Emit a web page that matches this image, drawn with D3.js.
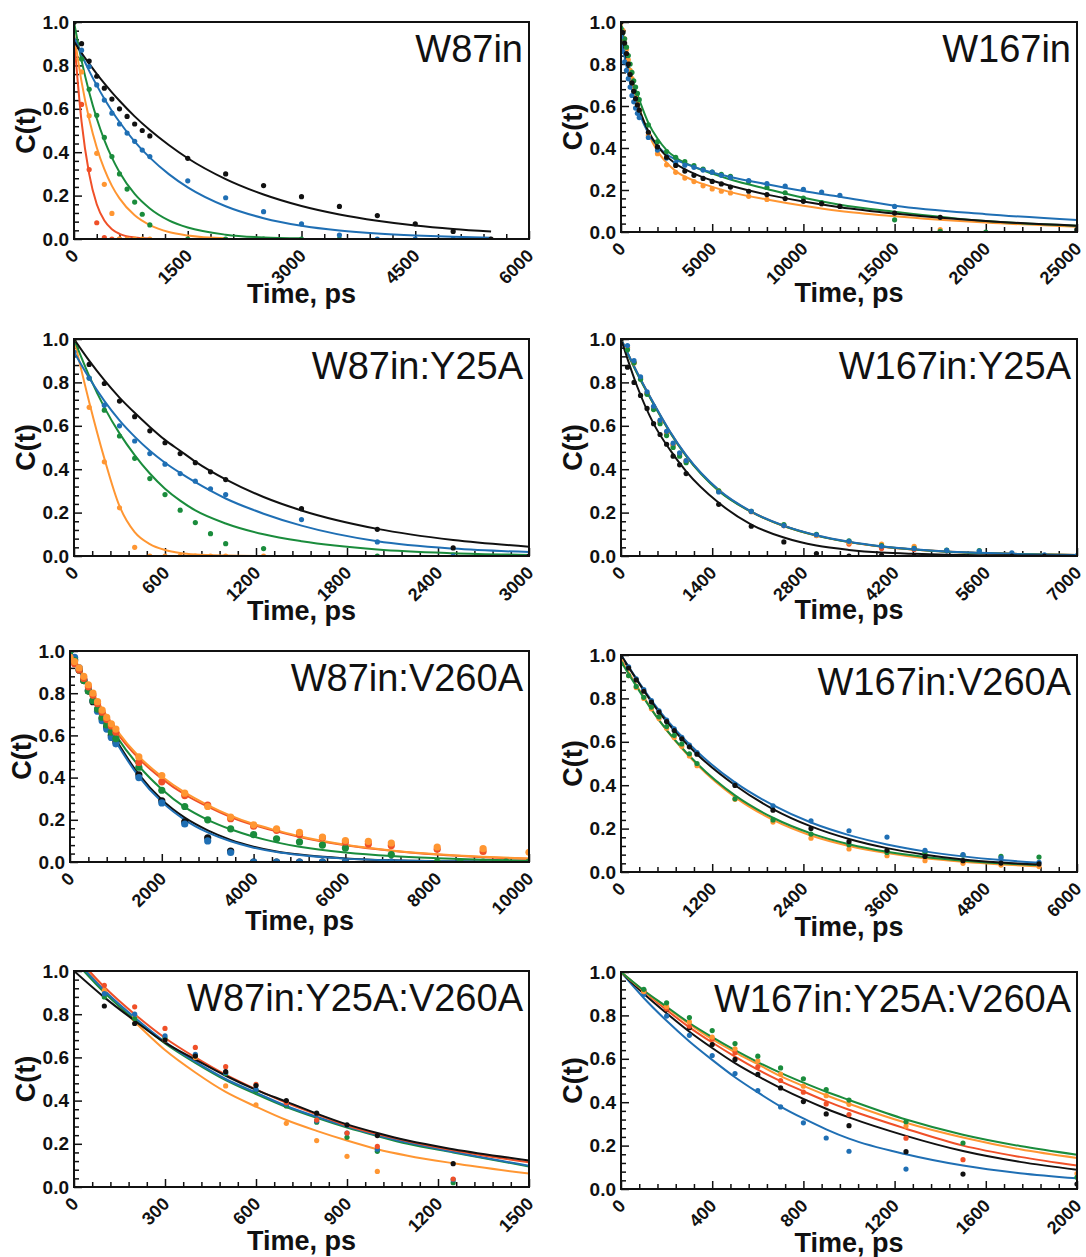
<!DOCTYPE html>
<html>
<head>
<meta charset="utf-8">
<script src="https://cdn.jsdelivr.net/npm/d3@7"></script>
<style>
  html, body { margin: 0; padding: 0; background: #ffffff; }
  svg { display: block; }
</style>
</head>
<body>
<svg id="fig" width="1086" height="1257"></svg>
<script>
// ---------- W87in ----------
const w87inPtT      = [0,100,200,300,400,500,600,700,800,900,1000,1500,2000,2500,3000,3500,4000,4500,5000,5500];
const w87inPtBlack  = [1.0,0.90,0.82,0.75,0.695,0.645,0.60,0.565,0.53,0.50,0.475,0.372,0.30,0.246,0.195,0.15,0.108,0.07,0.035,0.0];
const w87inPtBlue   = [1.0,0.87,0.795,0.71,0.64,0.58,0.53,0.488,0.45,0.41,0.38,0.268,0.19,0.126,0.07,0.018,0.0,0.0,0.0,null];
const w87inPtGreen  = [1.0,0.83,0.69,0.57,0.468,0.38,0.30,0.23,0.17,0.114,0.065,0.0,0.0,0.0,0.0,0.0,null,null,null,null];
const w87inPtOrange = [1.0,0.77,0.568,0.395,0.252,0.118,0.0,0.0,0.0,0.0,0.0,null,null,null,null,null,null,null,null,null];
const w87inPtRed    = [1.0,0.62,0.32,0.075,0.006,0.0,0.0,null,null,null,null,null,null,null,null,null,null,null,null,null];
const w87inFitT      = [0,100,200,300,400,500,600,800,1000,1250,1500,2000,2500,3000,3500,4000,4500,5000,5500];
const w87inFitBlack  = [0.91,0.857,0.808,0.761,0.717,0.676,0.637,0.565,0.502,0.433,0.372,0.276,0.205,0.152,0.113,0.084,0.062,0.046,0.034];
const w87inFitBlue   = [0.93,0.849,0.775,0.708,0.646,0.59,0.539,0.449,0.375,0.299,0.238,0.151,0.096,0.061,0.039,0.025,0.016,0.01,0.006];
const w87inFitGreen  = [1.0,0.822,0.676,0.555,0.456,0.375,0.308,0.208,0.141,0.086,0.053,0.02,0.007,0.003,null,null,null,null,null];
const w87inFitOrange = [0.95,0.724,0.553,0.422,0.322,0.245,0.187,0.109,0.064,0.032,0.016,0.003,null,null,null,null,null,null,null];
const w87inFitRed    = [0.93,0.54,0.30,0.16,0.085,0.045,0.024,0.007,0.002,null,null,null,null,null,null,null,null,null,null];

// ---------- W167in ----------
const w167inPtT      = [0,100,200,300,400,500,600,700,800,900,1000,1500,2000,2500,3000,3500,4000,4500,5000,5500,6000,7000,8000,9000,10000,11000,12000,15000,17500,20000,25000];
const w167inPtBlack  = [1.0,0.95,0.90,0.85,0.80,0.75,0.71,0.67,0.635,0.605,0.58,0.475,0.405,0.356,0.317,0.29,0.27,0.255,0.241,0.229,0.214,0.194,0.178,0.159,0.146,0.135,0.122,0.09,0.07,null,0.011];
const w167inPtBlue   = [0.93,0.86,0.81,0.77,0.73,0.69,0.65,0.62,0.59,0.565,0.545,0.45,0.39,0.352,0.33,0.318,0.308,0.295,0.285,0.27,0.26,0.245,0.23,0.218,0.203,0.19,0.175,0.122,null,null,null];
const w167inPtGreen  = [0.97,0.95,0.92,0.88,0.84,0.80,0.76,0.72,0.69,0.66,0.63,0.51,0.43,0.383,0.356,0.335,0.316,0.30,0.285,0.275,0.265,0.24,0.212,0.187,0.162,0.14,null,0.058,0.003,0.0,0.01];
const w167inPtOrange = [1.0,0.96,0.92,0.87,0.82,0.77,0.73,0.69,0.65,0.61,0.58,0.46,0.373,0.32,0.284,0.257,0.24,0.22,0.205,0.194,0.186,0.17,0.155,null,null,0.135,null,null,0.011,null,null];
const w167inFitT      = [0,250,500,750,1000,1500,2000,2500,3000,4000,5000,6000,8000,10000,12000,15000,20000,25000];
const w167inFitBlack  = [0.97,0.85,0.735,0.65,0.585,0.48,0.41,0.36,0.325,0.278,0.245,0.22,0.178,0.145,0.118,0.088,0.052,0.03];
const w167inFitBlue   = [0.92,0.81,0.71,0.63,0.567,0.47,0.41,0.37,0.345,0.31,0.283,0.262,0.227,0.195,0.168,0.125,0.085,0.057];
const w167inFitGreen  = [0.99,0.88,0.77,0.69,0.63,0.52,0.445,0.39,0.355,0.31,0.278,0.25,0.205,0.163,0.13,0.097,0.052,0.03];
const w167inFitOrange = [1.0,0.87,0.75,0.66,0.59,0.47,0.385,0.33,0.29,0.245,0.215,0.19,0.155,0.125,0.10,0.075,0.045,0.025];

// ---------- W87in:Y25A ----------
const w87yPtT      = [0,100,200,300,400,500,600,700,800,900,1000,1250,1500,2000,2500,3000];
const w87yPtBlack  = [1.0,0.883,0.795,0.714,0.642,0.577,0.522,0.472,0.43,0.388,0.352,null,0.218,0.123,0.037,0.0];
const w87yPtBlue   = [0.94,0.82,0.695,0.60,0.53,0.472,0.423,0.38,0.345,0.31,0.283,null,0.168,0.065,0.0,null];
const w87yPtGreen  = [1.0,0.82,0.672,0.553,0.45,0.357,0.283,0.211,0.154,0.103,0.057,0.034,null,0.0,null,null];
const w87yPtOrange = [1.0,0.685,0.434,0.222,0.04,0.0,0.0,0.0,0.0,0.0,0.0,0.0,null,null,null,null];
const w87yFitT      = [0,100,200,300,400,500,600,700,800,1000,1250,1500,2000,2500,3000];
const w87yFitBlack  = [1.0,0.90,0.81,0.73,0.66,0.595,0.535,0.485,0.435,0.353,0.272,0.21,0.125,0.074,0.043];
const w87yFitBlue   = [0.94,0.82,0.715,0.625,0.55,0.485,0.43,0.383,0.34,0.265,0.195,0.14,0.068,0.034,0.018];
const w87yFitGreen  = [1.0,0.83,0.685,0.565,0.465,0.38,0.31,0.255,0.21,0.15,0.10,0.068,0.03,0.013,0.005];
const w87yFitOrange = [1.0,0.71,0.45,0.23,0.11,0.055,0.028,0.014,0.007,0.002,0.0,null,null,null,null];

// ---------- W167in:Y25A ----------
const w167yPtT      = [0,100,200,300,400,500,600,700,800,900,1000,1500,2000,2500,3000,3500,4000,4500,5000,5500,6000,6500,7000];
const w167yPtBlack  = [1.0,0.87,0.80,0.74,0.68,0.61,0.56,0.515,0.46,0.42,0.38,0.238,0.137,0.065,0.011,0.0,0.003,0.0,0.0,null,0.0,0.0,null];
const w167yPtBlue   = [1.0,0.97,0.90,0.826,0.757,0.69,0.626,0.575,0.52,0.475,0.44,0.295,0.206,0.14,0.098,0.068,0.045,0.034,0.026,0.023,0.015,0.005,0.002];
const w167yPtGreen  = [1.0,0.95,0.89,0.815,0.745,0.675,0.61,0.555,0.50,0.46,0.43,0.30,0.206,0.145,0.10,0.07,0.048,0.035,0.027,0.025,null,null,null];
const w167yPtOrange = [1.0,0.96,0.89,0.82,0.75,0.685,0.62,0.57,0.515,0.47,0.44,0.30,0.205,0.14,0.095,0.06,0.055,0.045,null,null,null,null,null];
const w167yPtRed    = [1.0,0.96,0.89,0.82,0.75,0.68,0.62,0.565,0.51,0.47,0.435,0.298,0.204,0.14,0.094,0.055,0.034,0.03,null,null,null,null,null];
const w167yFitT      = [0,250,500,750,1000,1500,2000,2500,3000,3500,4000,4500,5000,5500,6000,7000];
const w167yFitBlack  = [1.0,0.78,0.61,0.49,0.39,0.245,0.145,0.085,0.048,0.028,0.016,0.01,0.006,0.004,0.003,0.001];
const w167yFitBlue   = [1.0,0.845,0.705,0.575,0.465,0.305,0.205,0.14,0.096,0.066,0.045,0.031,0.021,0.015,0.01,0.005];
const w167yFitGreen  = [1.0,0.84,0.70,0.57,0.46,0.30,0.203,0.138,0.094,0.064,0.044,0.03,0.02,0.014,0.01,0.005];
const w167yFitOrange = [1.0,0.843,0.703,0.573,0.463,0.303,0.204,0.139,0.095,0.065,0.044,0.03,0.021,0.014,0.01,0.005];
const w167yFitRed    = [1.0,0.842,0.702,0.572,0.462,0.302,0.203,0.138,0.094,0.064,0.043,0.03,0.02,0.014,0.01,0.005];

// ---------- W87in:V260A ----------
const w87vPtT      = [0,100,200,300,400,500,600,700,800,900,1000,1500,2000,2500,3000,3500,4000,4500,5000,5500,6000,6500,7000,7500,8000,8500,9000,9500,10000];
const w87vPtBlack  = [1.0,0.96,0.91,0.86,0.81,0.76,0.72,0.68,0.64,0.60,0.57,0.413,0.29,0.19,0.115,0.052,0.0,0.0,0.0,0.0,0.0,null,0.0,null,null,null,null,null,null];
const w87vPtBlue   = [1.0,0.97,0.92,0.865,0.815,0.765,0.715,0.67,0.63,0.59,0.56,0.40,0.28,0.18,0.10,0.045,0.0,0.0,0.0,0.0,0.0,null,0.0,null,null,null,null,null,null];
const w87vPtGreen  = [1.0,0.955,0.91,0.86,0.81,0.765,0.725,0.685,0.65,0.615,0.585,0.449,0.34,0.263,0.20,0.157,0.13,0.11,0.095,0.08,0.066,null,0.035,null,0.0,0.0,0.0,0.0,0.0];
const w87vPtOrange = [0.97,0.95,0.92,0.88,0.84,0.80,0.76,0.72,0.685,0.655,0.63,0.498,0.41,0.326,0.263,0.213,0.176,0.157,0.14,0.118,0.102,0.098,0.09,null,0.071,null,0.063,null,0.046];
const w87vPtRed    = [0.96,0.94,0.91,0.87,0.83,0.79,0.75,0.71,0.675,0.645,0.615,0.472,0.38,0.315,0.27,0.205,0.17,0.15,0.13,0.115,0.095,0.085,0.078,null,0.06,null,0.05,null,null];
const w87vFitT      = [0,250,500,750,1000,1500,2000,2500,3000,3500,4000,4500,5000,6000,7000,8000,9000,10000];
const w87vFitBlack  = [1.0,0.89,0.78,0.675,0.58,0.415,0.295,0.21,0.15,0.105,0.073,0.05,0.035,0.017,0.008,0.004,0.002,0.001];
const w87vFitBlue   = [1.0,0.885,0.77,0.665,0.57,0.405,0.285,0.2,0.14,0.098,0.068,0.047,0.033,0.016,0.008,0.004,0.002,0.001];
const w87vFitGreen  = [1.0,0.895,0.785,0.69,0.60,0.455,0.345,0.26,0.20,0.155,0.12,0.093,0.072,0.045,0.028,0.018,0.011,0.007];
const w87vFitOrange = [1.0,0.90,0.80,0.71,0.63,0.50,0.405,0.33,0.27,0.22,0.18,0.15,0.122,0.082,0.055,0.037,0.025,0.016];
const w87vFitRed    = [1.0,0.898,0.795,0.705,0.62,0.49,0.395,0.32,0.262,0.213,0.175,0.145,0.118,0.079,0.053,0.035,0.023,0.015];

// ---------- W167in:V260A ----------
const w167vPtT      = [0,100,200,300,400,500,600,700,800,900,1000,1500,2000,2500,3000,3500,4000,4500,5000,5500];
const w167vPtBlack  = [1.0,0.94,0.885,0.833,0.783,0.737,0.693,0.652,0.614,0.577,0.543,0.399,0.285,0.2,0.14,0.1,0.072,0.052,0.041,0.037];
const w167vPtBlue   = [1.0,0.945,0.89,0.84,0.79,0.743,0.70,0.66,0.62,0.585,0.55,0.405,0.305,0.236,0.19,0.161,0.10,0.08,0.065,0.045];
const w167vPtGreen  = [0.96,0.905,0.855,0.805,0.76,0.715,0.67,0.63,0.59,0.545,0.50,0.337,0.24,0.175,0.126,0.09,0.09,0.078,0.072,0.069];
const w167vPtOrange = [0.97,0.905,0.85,0.80,0.752,0.707,0.663,0.62,0.58,0.535,0.49,0.335,0.23,0.156,0.106,0.075,0.052,0.04,0.032,0.025];
const w167vFitT      = [0,500,1000,1500,2000,2500,3000,3500,4000,4500,5000,5500];
const w167vFitBlack  = [1.0,0.737,0.543,0.40,0.29,0.21,0.152,0.11,0.08,0.058,0.044,0.034];
const w167vFitBlue   = [1.0,0.745,0.555,0.413,0.308,0.228,0.17,0.127,0.095,0.072,0.055,0.043];
const w167vFitGreen  = [0.97,0.70,0.50,0.353,0.25,0.178,0.128,0.093,0.069,0.052,0.04,0.031];
const w167vFitOrange = [0.98,0.70,0.495,0.345,0.24,0.168,0.12,0.087,0.063,0.047,0.035,0.026];

// ---------- W87in:Y25A:V260A ----------
const w87yvPtT      = [100,200,300,400,500,600,700,800,900,1000,1250];
const w87yvPtBlack  = [0.838,0.757,0.68,0.606,0.534,0.47,0.40,0.342,0.288,0.238,0.108];
const w87yvPtRed    = [0.934,0.834,0.734,0.646,0.557,0.475,0.39,0.31,0.25,0.188,0.037];
const w87yvPtBlue   = [0.895,0.80,0.70,0.614,0.53,0.452,0.383,0.306,0.25,0.175,0.034];
const w87yvPtGreen  = [0.88,0.78,0.69,0.61,0.525,0.445,0.375,0.30,0.23,0.165,0.02];
const w87yvPtOrange = [0.91,0.79,0.68,0.60,0.468,0.38,0.295,0.215,0.142,0.072,null];
const w87yvFitT      = [0,100,200,300,400,500,600,700,800,900,1000,1100,1250,1500];
const w87yvFitBlack  = [1.0,0.878,0.77,0.668,0.59,0.515,0.45,0.395,0.34,0.29,0.25,0.215,0.175,0.123];
const w87yvFitRed    = [1.08,0.926,0.80,0.69,0.60,0.52,0.452,0.39,0.337,0.285,0.245,0.212,0.17,0.114];
const w87yvFitBlue   = [1.06,0.91,0.785,0.672,0.58,0.50,0.437,0.375,0.325,0.28,0.24,0.206,0.163,0.098];
const w87yvFitGreen  = [1.05,0.90,0.775,0.665,0.575,0.495,0.43,0.37,0.32,0.275,0.236,0.20,0.16,0.095];
const w87yvFitOrange = [1.07,0.91,0.765,0.634,0.53,0.44,0.372,0.31,0.26,0.215,0.175,0.145,0.11,0.062];

// ---------- W167in:Y25A:V260A ----------
const w167yvPtT      = [100,200,300,400,500,600,700,800,900,1000,1250,1500,2000];
const w167yvPtGreen  = [0.92,0.858,0.79,0.73,0.67,0.612,0.558,0.508,0.458,0.41,0.31,0.212,0.054];
const w167yvPtOrange = [0.91,0.84,0.77,0.70,0.646,0.59,0.53,0.474,0.43,0.39,0.29,null,0.071];
const w167yvPtRed    = [0.91,0.83,0.75,0.69,0.628,0.563,0.50,0.446,0.392,0.343,0.234,0.135,null];
const w167yvPtBlack  = [0.915,0.828,0.743,0.666,0.597,0.528,0.466,0.403,0.346,0.292,0.172,0.069,0.023];
const w167yvPtBlue   = [0.897,0.797,0.708,0.615,0.532,0.454,0.378,0.305,0.235,0.174,0.092,null,null];
const w167yvFitT      = [0,100,200,300,400,500,600,700,800,900,1000,1250,1500,1750,2000];
const w167yvFitGreen  = [1.0,0.915,0.84,0.765,0.70,0.64,0.585,0.535,0.49,0.448,0.41,0.32,0.25,0.198,0.158];
const w167yvFitOrange = [1.0,0.913,0.835,0.76,0.69,0.63,0.575,0.52,0.475,0.432,0.393,0.305,0.237,0.183,0.143];
const w167yvFitRed    = [1.0,0.91,0.825,0.745,0.675,0.61,0.55,0.497,0.45,0.405,0.365,0.278,0.20,0.148,0.108];
const w167yvFitBlack  = [1.0,0.90,0.81,0.725,0.65,0.58,0.52,0.465,0.415,0.37,0.33,0.245,0.175,0.125,0.089];
const w167yvFitBlue   = [1.0,0.88,0.775,0.68,0.595,0.515,0.445,0.38,0.325,0.275,0.232,0.16,0.108,0.073,0.049];

// Series colours and shared y ticks
const seriesColor = { black: "#111111", blue: "#1f6fb4", green: "#1a8c3c", orange: "#ff9632", red: "#f05028" };
const yMajorTicks = [0, 0.2, 0.4, 0.6, 0.8, 1.0];

// ---------- helpers ----------
function pairs(ts, vs) {
  return ts.map((t, i) => [t, vs[i]]).filter(d => d[1] !== null && d[1] !== undefined);
}
function series(color, ptT, ptV, fitT, fitV) {
  return { color, pts: pairs(ptT, ptV), fit: pairs(fitT, fitV) };
}

// Panel definitions; box = [left, top, right, bottom] in pixels
const panels = [
  { title: "W87in", xMax: 6000, xStep: 1500, box: [74, 22, 529, 239], r: 2.6, titleGap: 64,
    series: [
      series("red", w87inPtT, w87inPtRed, w87inFitT, w87inFitRed),
      series("orange", w87inPtT, w87inPtOrange, w87inFitT, w87inFitOrange),
      series("green", w87inPtT, w87inPtGreen, w87inFitT, w87inFitGreen),
      series("blue", w87inPtT, w87inPtBlue, w87inFitT, w87inFitBlue),
      series("black", w87inPtT, w87inPtBlack, w87inFitT, w87inFitBlack)
    ] },
  { title: "W167in", xMax: 25000, xStep: 5000, box: [621, 22, 1077, 232], r: 2.6, titleGap: 70,
    series: [
      series("orange", w167inPtT, w167inPtOrange, w167inFitT, w167inFitOrange),
      series("green", w167inPtT, w167inPtGreen, w167inFitT, w167inFitGreen),
      series("blue", w167inPtT, w167inPtBlue, w167inFitT, w167inFitBlue),
      series("black", w167inPtT, w167inPtBlack, w167inFitT, w167inFitBlack)
    ] },
  { title: "W87in:Y25A", xMax: 3000, xStep: 600, box: [74, 339, 529, 556], r: 2.6, titleGap: 64,
    series: [
      series("orange", w87yPtT, w87yPtOrange, w87yFitT, w87yFitOrange),
      series("green", w87yPtT, w87yPtGreen, w87yFitT, w87yFitGreen),
      series("blue", w87yPtT, w87yPtBlue, w87yFitT, w87yFitBlue),
      series("black", w87yPtT, w87yPtBlack, w87yFitT, w87yFitBlack)
    ] },
  { title: "W167in:Y25A", xMax: 7000, xStep: 1400, box: [621, 339, 1077, 556], r: 2.6, titleGap: 63,
    series: [
      series("red", w167yPtT, w167yPtRed, w167yFitT, w167yFitRed),
      series("orange", w167yPtT, w167yPtOrange, w167yFitT, w167yFitOrange),
      series("green", w167yPtT, w167yPtGreen, w167yFitT, w167yFitGreen),
      series("blue", w167yPtT, w167yPtBlue, w167yFitT, w167yFitBlue),
      series("black", w167yPtT, w167yPtBlack, w167yFitT, w167yFitBlack)
    ] },
  { title: "W87in:V260A", xMax: 10000, xStep: 2000, box: [70, 651, 529, 862], r: 3.6, titleGap: 68,
    series: [
      series("black", w87vPtT, w87vPtBlack, w87vFitT, w87vFitBlack),
      series("blue", w87vPtT, w87vPtBlue, w87vFitT, w87vFitBlue),
      series("green", w87vPtT, w87vPtGreen, w87vFitT, w87vFitGreen),
      series("red", w87vPtT, w87vPtRed, w87vFitT, w87vFitRed),
      series("orange", w87vPtT, w87vPtOrange, w87vFitT, w87vFitOrange)
    ] },
  { title: "W167in:V260A", xMax: 6000, xStep: 1200, box: [621, 655, 1077, 872], r: 2.6, titleGap: 64,
    series: [
      series("orange", w167vPtT, w167vPtOrange, w167vFitT, w167vFitOrange),
      series("green", w167vPtT, w167vPtGreen, w167vFitT, w167vFitGreen),
      series("blue", w167vPtT, w167vPtBlue, w167vFitT, w167vFitBlue),
      series("black", w167vPtT, w167vPtBlack, w167vFitT, w167vFitBlack)
    ] },
  { title: "W87in:Y25A:V260A", xMax: 1500, xStep: 300, box: [74, 971, 529, 1187], r: 2.6, titleGap: 63,
    series: [
      series("orange", w87yvPtT, w87yvPtOrange, w87yvFitT, w87yvFitOrange),
      series("green", w87yvPtT, w87yvPtGreen, w87yvFitT, w87yvFitGreen),
      series("blue", w87yvPtT, w87yvPtBlue, w87yvFitT, w87yvFitBlue),
      series("red", w87yvPtT, w87yvPtRed, w87yvFitT, w87yvFitRed),
      series("black", w87yvPtT, w87yvPtBlack, w87yvFitT, w87yvFitBlack)
    ] },
  { title: "W167in:Y25A:V260A", xMax: 2000, xStep: 400, box: [621, 972, 1077, 1189], r: 2.6, titleGap: 63,
    series: [
      series("blue", w167yvPtT, w167yvPtBlue, w167yvFitT, w167yvFitBlue),
      series("black", w167yvPtT, w167yvPtBlack, w167yvFitT, w167yvFitBlack),
      series("red", w167yvPtT, w167yvPtRed, w167yvFitT, w167yvFitRed),
      series("orange", w167yvPtT, w167yvPtOrange, w167yvFitT, w167yvFitOrange),
      series("green", w167yvPtT, w167yvPtGreen, w167yvFitT, w167yvFitGreen)
    ] }
];

const FONT = "'Liberation Sans', Arial, Helvetica, sans-serif";
const svg = d3.select("#fig");
const defs = svg.append("defs");

panels.forEach((p, i) => {
  const [x0, y0, x1, y1] = p.box;
  const x = d3.scaleLinear().domain([0, p.xMax]).range([x0, x1]);
  const y = d3.scaleLinear().domain([0, 1]).range([y1, y0]);
  const g = svg.append("g").attr("class", "panel");

  defs.append("clipPath").attr("id", "plotclip" + i)
    .append("rect").attr("x", x0).attr("y", y0).attr("width", x1 - x0).attr("height", y1 - y0);

  const xMajor = d3.range(0, p.xMax + 1e-6, p.xStep);
  const xMinor = d3.range(0, p.xMax + 1e-6, p.xStep / 5).filter(v => !xMajor.some(m => Math.abs(m - v) < 1e-6));
  const yMinor = d3.range(0, 1.0001, 0.04).filter(v => !yMajorTicks.some(m => Math.abs(m - v) < 1e-6));

  // minor ticks
  g.append("g").attr("transform", `translate(0,${y1})`)
    .call(d3.axisBottom(x).tickValues(xMinor).tickSizeInner(-5).tickSizeOuter(0).tickFormat(""))
    .call(a => a.select(".domain").remove())
    .call(a => a.selectAll("line").attr("stroke", "#111").attr("stroke-width", 1.5));
  g.append("g").attr("transform", `translate(${x0},0)`)
    .call(d3.axisLeft(y).tickValues(yMinor).tickSizeInner(-5).tickSizeOuter(0).tickFormat(""))
    .call(a => a.select(".domain").remove())
    .call(a => a.selectAll("line").attr("stroke", "#111").attr("stroke-width", 1.5));

  // major x ticks + rotated labels
  g.append("g").attr("transform", `translate(0,${y1})`)
    .call(d3.axisBottom(x).tickValues(xMajor).tickSizeInner(-8).tickSizeOuter(0).tickFormat(d3.format("d")))
    .call(a => a.select(".domain").remove())
    .call(a => a.selectAll("line").attr("stroke", "#111").attr("stroke-width", 1.5))
    .call(a => a.selectAll("text")
      .attr("x", null).attr("y", null).attr("dy", null)
      .attr("text-anchor", "end")
      .attr("transform", "translate(5,18) rotate(-45)")
      .attr("fill", "#111")
      .style("font-family", FONT).style("font-size", "18px").style("font-weight", "bold"));

  // major y ticks + labels
  g.append("g").attr("transform", `translate(${x0},0)`)
    .call(d3.axisLeft(y).tickValues(yMajorTicks).tickSizeInner(-8).tickSizeOuter(0).tickPadding(5).tickFormat(d3.format(".1f")))
    .call(a => a.select(".domain").remove())
    .call(a => a.selectAll("line").attr("stroke", "#111").attr("stroke-width", 1.5))
    .call(a => a.selectAll("text")
      .attr("fill", "#111")
      .style("font-family", FONT).style("font-size", "19px").style("font-weight", "bold"));

  // fitted curves
  const line = d3.line().x(d => x(d[0])).y(d => y(d[1])).curve(d3.curveMonotoneX);
  const plot = g.append("g").attr("clip-path", `url(#plotclip${i})`);
  p.series.forEach(s => {
    plot.append("path").datum(s.fit)
      .attr("d", line).attr("fill", "none")
      .attr("stroke", seriesColor[s.color]).attr("stroke-width", 2);
  });
  // data points
  p.series.forEach(s => {
    plot.append("g").selectAll("circle").data(s.pts).join("circle")
      .attr("cx", d => x(d[0])).attr("cy", d => y(d[1])).attr("r", p.r)
      .attr("fill", seriesColor[s.color]);
  });

  // frame
  g.append("rect").attr("x", x0).attr("y", y0).attr("width", x1 - x0).attr("height", y1 - y0)
    .attr("fill", "none").attr("stroke", "#111").attr("stroke-width", 2);

  // panel label
  g.append("text").attr("x", x1 - 6).attr("y", y0 + 40)
    .attr("text-anchor", "end").attr("fill", "#111")
    .style("font-family", FONT).style("font-size", "38px")
    .text(p.title);

  // axis titles
  g.append("text").attr("x", (x0 + x1) / 2).attr("y", y1 + p.titleGap)
    .attr("text-anchor", "middle").attr("fill", "#111")
    .style("font-family", FONT).style("font-size", "27px").style("font-weight", "bold")
    .text("Time, ps");
  g.append("text")
    .attr("transform", `translate(${x0 - 48},${(y0 + y1) / 2}) rotate(-90)`)
    .attr("dy", "0.35em")
    .attr("text-anchor", "middle").attr("fill", "#111")
    .style("font-family", FONT).style("font-size", "27px").style("font-weight", "bold")
    .text("C(t)");
});
</script>
</body>
</html>
